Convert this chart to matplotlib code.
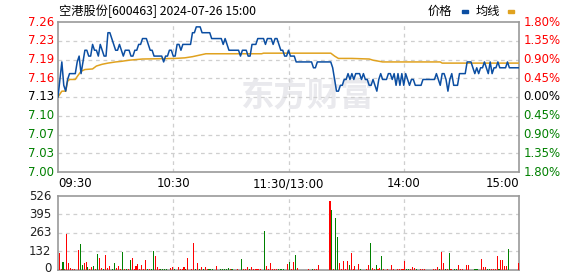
import matplotlib
matplotlib.use("Agg")
import matplotlib.pyplot as plt
import matplotlib.transforms as mtransforms
import numpy as np

plt.rcParams['font.family'] = ['DejaVu Sans', 'Noto Sans CJK SC']

# intraday data, one value per minute (09:30 .. 15:00 = 241 points)
prev_close = 7.13
price = [
    7.13, 7.16, 7.19, 7.15, 7.14, 7.16, 7.17, 7.17, 7.17, 7.17,
    7.19, 7.20, 7.17, 7.19, 7.21, 7.21, 7.20, 7.20, 7.22, 7.21,
    7.21, 7.20, 7.22, 7.21, 7.20, 7.20, 7.24, 7.24, 7.23, 7.22,
    7.21, 7.21, 7.22, 7.21, 7.20, 7.21, 7.21, 7.21, 7.20, 7.20,
    7.21, 7.21, 7.22, 7.22, 7.23, 7.23, 7.23, 7.22, 7.21, 7.21,
    7.20, 7.20, 7.20, 7.20, 7.20, 7.19, 7.20, 7.20, 7.21, 7.21,
    7.20, 7.20, 7.22, 7.22, 7.21, 7.22, 7.22, 7.22, 7.22, 7.22,
    7.24, 7.24, 7.25, 7.25, 7.25, 7.24, 7.24, 7.24, 7.24, 7.24,
    7.23, 7.23, 7.23, 7.23, 7.23, 7.23, 7.22, 7.23, 7.22, 7.21,
    7.21, 7.21, 7.21, 7.21, 7.21, 7.20, 7.21, 7.21, 7.21, 7.20,
    7.20, 7.22, 7.22, 7.22, 7.23, 7.23, 7.23, 7.23, 7.22, 7.23,
    7.23, 7.23, 7.22, 7.23, 7.23, 7.22, 7.21, 7.21, 7.20, 7.20,
    7.21, 7.20, 7.20, 7.20, 7.19, 7.19, 7.19, 7.19, 7.19, 7.19,
    7.19, 7.19, 7.19, 7.18, 7.18, 7.19, 7.19, 7.19, 7.19, 7.19,
    7.19, 7.19, 7.19, 7.18, 7.16, 7.14, 7.14, 7.15, 7.15, 7.16,
    7.16, 7.17, 7.16, 7.17, 7.16, 7.17, 7.17, 7.17, 7.16, 7.17,
    7.16, 7.16, 7.15, 7.15, 7.16, 7.15, 7.14, 7.16, 7.17, 7.16,
    7.16, 7.16, 7.17, 7.17, 7.16, 7.17, 7.15, 7.17, 7.15, 7.17,
    7.15, 7.17, 7.16, 7.15, 7.16, 7.16, 7.15, 7.15, 7.15, 7.15,
    7.16, 7.16, 7.16, 7.16, 7.16, 7.16, 7.16, 7.17, 7.16, 7.15,
    7.17, 7.17, 7.16, 7.14, 7.16, 7.17, 7.15, 7.15, 7.15, 7.17,
    7.17, 7.17, 7.17, 7.19, 7.19, 7.19, 7.18, 7.17, 7.18, 7.17,
    7.18, 7.18, 7.19, 7.18, 7.17, 7.19, 7.17, 7.18, 7.18, 7.19,
    7.18, 7.18, 7.18, 7.18, 7.19, 7.18, 7.18, 7.18, 7.18, 7.18,
    7.18,
]

# average price line, read at the minutes where it changes
avg_min = [0, 2, 4, 5, 6, 9, 10, 12, 14, 18, 20, 23, 26, 30, 33, 37, 44,
           61, 66, 70, 77, 106, 107, 142, 144, 146, 153, 162, 164, 169,
           199, 200, 240]
avg_val = [7.13, 7.14, 7.14, 7.157, 7.16, 7.16, 7.165, 7.174, 7.177, 7.178,
           7.183, 7.186, 7.188, 7.19, 7.191, 7.193, 7.195, 7.196, 7.197,
           7.199, 7.204, 7.204, 7.205, 7.205, 7.200, 7.196, 7.196, 7.195,
           7.193, 7.19, 7.19, 7.188, 7.188]

volume = [
    122, 7, 57, 7, 253, 50, 14, 7, 7, 0, 143, 186, 36, 50, 57, 22, 7, 22, 29, 7,
    115, 86, 14, 7, 108, 14, 29, 3, 7, 50, 14, 29, 7, 129, 7, 7, 7, 72, 86, 7,
    29, 43, 7, 36, 7, 72, 7, 7, 7, 136, 100, 22, 7, 7, 7, 7, 7, 0, 14, 22,
    7, 0, 22, 7, 7, 22, 7, 86, 0, 7, 194, 7, 50, 7, 22, 7, 22, 7, 7, 7,
    7, 0, 29, 0, 7, 7, 7, 7, 14, 7, 7, 0, 0, 7, 0, 79, 7, 7, 22, 7,
    22, 7, 7, 7, 7, 7, 0, 280, 29, 7, 50, 7, 7, 7, 7, 7, 7, 7, 0, 43,
    57, 7, 57, 108, 14, 0, 0, 0, 0, 0, 7, 0, 7, 7, 7, 36, 0, 0, 0, 0,
    0, 488, 423, 7, 373, 237, 50, 7, 65, 7, 65, 36, 122, 7, 29, 3, 43, 7, 0, 0,
    7, 36, 194, 14, 7, 36, 7, 14, 100, 7, 0, 7, 0, 36, 7, 0, 7, 7, 7, 7,
    65, 7, 7, 7, 22, 14, 7, 0, 7, 7, 7, 0, 0, 0, 0, 7, 7, 22, 7, 129,
    50, 7, 7, 122, 7, 0, 7, 7, 36, 7, 7, 0, 36, 36, 0, 0, 7, 7, 7, 0,
    79, 22, 22, 7, 7, 7, 7, 7, 100, 7, 72, 72, 29, 29, 151, 0, 0, 0, 0, 50,
    0,
]
# minutes whose volume bar is green (falling)
green_min = [2, 11, 12, 15, 18, 20, 23, 27, 28, 29, 33, 35, 37, 46, 48, 49,
             53, 54, 55, 56, 60, 66, 71, 73, 75, 78, 79, 80, 84, 85, 86, 87,
             88, 90, 95, 99, 107, 114, 115, 116, 117, 120, 123, 132, 142, 144,
             145, 151, 155, 157, 162, 165, 168, 181, 182, 186, 198, 201, 203,
             206, 207, 216, 217, 218, 223, 224, 229, 234]

price_ticks = [7.26, 7.23, 7.19, 7.16, 7.13, 7.10, 7.07, 7.03, 7.00]
pct_ticks = ['1.80%', '1.35%', '0.90%', '0.45%', '0.00%', '0.45%', '0.90%', '1.35%', '1.80%']
vol_ticks = [0, 132, 263, 395, 526]
time_labels = ['09:30', '10:30', '11:30/13:00', '14:00', '15:00']

RED = '#ff0000'
GREEN = '#008000'
BLUE = '#0b4ea2'
ORANGE = '#e0a21f'
GRID = '#cfcfcf'
FRAME = '#999999'

span = prev_close * 0.018
ymin, ymax = prev_close - span, prev_close + span
minutes = np.arange(len(price))

fig = plt.figure(figsize=(5.78, 2.76), dpi=100)
ax = fig.add_axes([58 / 578, 1 - 172 / 276, 461 / 578, 150 / 276])
axv = fig.add_axes([58 / 578, 1 - 270 / 276, 461 / 578, 74 / 276])

# watermark
ax.text(0.54, 0.5, '东方财富', transform=ax.transAxes, fontsize=24,
        family=['Noto Sans CJK SC'], fontweight='bold', color='#e9e9ed',
        ha='center', va='center', zorder=0)

for i in range(1, 8):
    ax.axhline(ymin + i * (ymax - ymin) / 8, color=GRID, lw=0.9, ls=(0, (3, 3)), zorder=1)
for m in [60, 120, 180]:
    ax.axvline(m, color=GRID, lw=0.9, ls=(0, (3, 3)), zorder=1)
    axv.axvline(m, color=GRID, lw=0.9, ls=(0, (3, 3)), zorder=1)

ax.plot(avg_min, avg_val, color=ORANGE, lw=1.1, zorder=3)
ax.plot(minutes, price, color=BLUE, lw=1.1, zorder=4)
ax.set_xlim(0, 240)
ax.set_ylim(ymin, ymax)
ax.set_xticks([])
ax.set_yticks([])
for s in ax.spines.values():
    s.set_color(FRAME)
    s.set_linewidth(1.2)

# left price labels / right percent labels
for i, (p, t) in enumerate(zip(price_ticks, pct_ticks)):
    yv = ymax - i * (ymax - ymin) / 8
    c = RED if i < 4 else ('#000000' if i == 4 else GREEN)
    ax.text(-0.008, yv, '%.2f' % p, transform=ax.get_yaxis_transform(), ha='right',
            va='center', fontsize=8.5, color=c)
    ax.text(1.01, yv, t, transform=ax.get_yaxis_transform(), ha='left',
            va='center', fontsize=8.5, color=c)

# time labels
aligns = ['left', 'center', 'center', 'center', 'right']
for lab, m, ha in zip(time_labels, [0, 60, 120, 180, 240], aligns):
    ax.text(m, -0.035, lab, transform=ax.get_xaxis_transform(), ha=ha, va='top',
            fontsize=8.5, color='#000000')

# volume
bar_colors = [GREEN if i in green_min else RED for i in range(len(volume))]
for v in vol_ticks[1:-1]:
    axv.axhline(v, color=GRID, lw=0.9, ls=(0, (3, 3)), zorder=1)
axv.bar(minutes + 0.6, volume, width=0.55, color=bar_colors, zorder=3)
axv.set_xlim(0, 240)
axv.set_ylim(0, vol_ticks[-1])
axv.set_xticks([])
axv.set_yticks([])
for v in vol_ticks:
    tr = axv.get_yaxis_transform()
    if v == 0:
        tr = mtransforms.offset_copy(tr, fig=fig, y=2, units='dots')
    axv.text(-0.014, v, str(v), transform=tr, ha='right', va='center',
             fontsize=8.5, color='#222222')
for s in axv.spines.values():
    s.set_color(FRAME)
    s.set_linewidth(1.2)

# title and legend
fig.text(59 / 578, 1 - 11 / 276, '空港股份[600463] 2024-07-26 15:00', ha='left',
         va='center', fontsize=8.8, family=['Noto Sans CJK SC', 'DejaVu Sans'])
fig.text(452 / 578, 1 - 11 / 276, '价格', ha='right', va='center', fontsize=8.8,
         family=['Noto Sans CJK SC'])
fig.patches.append(plt.Rectangle((462 / 578, 1 - 13 / 276), 6 / 578, 3 / 276,
                                 transform=fig.transFigure, color=BLUE))
fig.text(500 / 578, 1 - 11 / 276, '均线', ha='right', va='center', fontsize=8.8,
         family=['Noto Sans CJK SC'])
fig.patches.append(plt.Rectangle((508 / 578, 1 - 13 / 276), 6 / 578, 3 / 276,
                                 transform=fig.transFigure, color=ORANGE))

fig.savefig('out.png', dpi=100)
